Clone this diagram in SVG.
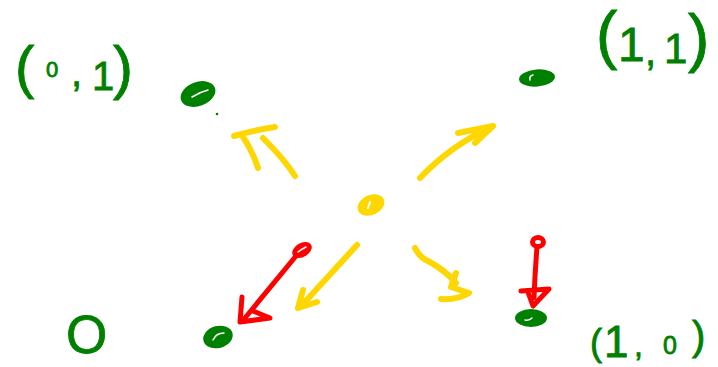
<svg xmlns="http://www.w3.org/2000/svg" width="718" height="367" viewBox="0 0 718 367">
<style>
.lbl{font-family:"Liberation Sans",Arial,sans-serif;fill:#008000;stroke:#008000;stroke-width:0.8}
.dot{fill:#008000}
.hole{fill:none;stroke:#ffffff;stroke-width:1.5;stroke-linecap:round}
.y{fill:none;stroke:#FFD700;stroke-width:6;stroke-linecap:round;stroke-linejoin:round}
.r{fill:none;stroke:#FF0000;stroke-width:5;stroke-linecap:round;stroke-linejoin:round}
</style>
<rect width="718" height="367" fill="#ffffff"/>

<g id="labels">
  <text class="lbl"><tspan x="15" y="87" font-size="58">(</tspan><tspan x="46" y="77" font-size="22">0</tspan><tspan x="71" y="86" font-size="40">,</tspan><tspan x="92" y="90" font-size="40">1</tspan><tspan x="113" y="88" font-size="60">)</tspan></text>
  <text class="lbl"><tspan x="596" y="57" font-size="64">(</tspan><tspan x="618" y="61" font-size="48">1</tspan><tspan x="645" y="65" font-size="40">,</tspan><tspan x="664" y="63" font-size="42">1</tspan><tspan x="688" y="60" font-size="64">)</tspan></text>
  <text class="lbl"><tspan x="590" y="355" font-size="36">(</tspan><tspan x="604" y="357" font-size="44">1</tspan><tspan x="634" y="356" font-size="32">,</tspan><tspan x="663" y="354" font-size="25">0</tspan><tspan x="692" y="350" font-size="40">)</tspan></text>
  <text class="lbl" x="66" y="353" font-size="53">O</text>
</g>

<g id="node-01">
  <ellipse class="dot" cx="198" cy="94" rx="18" ry="12" transform="rotate(-20 198 94)"/>
  <path class="hole" d="M192 97 Q200 92 208 90"/>
  <circle class="dot" cx="217" cy="114" r="1.3"/>
</g>
<g id="node-11">
  <ellipse class="dot" cx="537" cy="78" rx="18" ry="8.5" transform="rotate(-5 537 78)"/>
  <path class="hole" d="M530 80 Q529 76 533 75"/>
</g>
<g id="node-00">
  <ellipse class="dot" cx="218" cy="337" rx="15" ry="11" transform="rotate(-15 218 337)"/>
  <path class="hole" d="M213 340 Q216 333 224 333"/>
</g>
<g id="node-10">
  <ellipse class="dot" cx="531" cy="318" rx="16" ry="9"/>
  <path class="hole" d="M525 320 Q529 321 532 318"/>
</g>
<g id="node-center">
  <ellipse cx="371" cy="205" rx="14" ry="10" transform="rotate(-25 371 205)" fill="#FFD700"/>
  <path d="M368 208 L370 202" stroke="#ffffff" stroke-width="2" stroke-linecap="round"/>
</g>

<g id="connectors">
  <!-- yellow up-left -->
  <path class="y" d="M258 168 Q252 150 243 137"/>
  <path class="y" d="M234 136 Q255 130 275 127"/>
  <path class="y" d="M295 176 Q285 160 263 138"/>
  <!-- yellow up-right -->
  <path class="y" d="M420 178 Q450 146 493 126"/>
  <path class="y" d="M458 133 L493 126 L475 143"/>
  <!-- yellow down-left -->
  <path class="y" d="M357 245 L304 303"/>
  <path class="y" d="M303 290 L298 308 L317 302"/>
  <!-- yellow down-right -->
  <path class="y" d="M415 248 Q420 258 428 261 Q445 270 456 283"/>
  <path class="y" d="M456 273 L451 287 L469 293 Q458 300 441 299"/>
  <!-- red long -->
  <ellipse cx="302" cy="250" rx="10.5" ry="7" transform="rotate(-30 302 250)" fill="#FF0000"/>
  <path d="M298 252 Q302 249 306 247" stroke="#ffffff" stroke-width="1.5" fill="none" stroke-linecap="round"/>
  <path class="r" d="M296 256 L245 318"/>
  <path class="r" d="M242 297 L240 322 L270 318 L253 311"/>
  <!-- red short -->
  <ellipse class="r" cx="538" cy="242" rx="5.5" ry="4.5"/>
  <path class="r" d="M537 247 Q535 272 534 298"/>
  <path class="r" d="M521 291 L549 289 L533 306 L528 292"/>
</g>
</svg>
